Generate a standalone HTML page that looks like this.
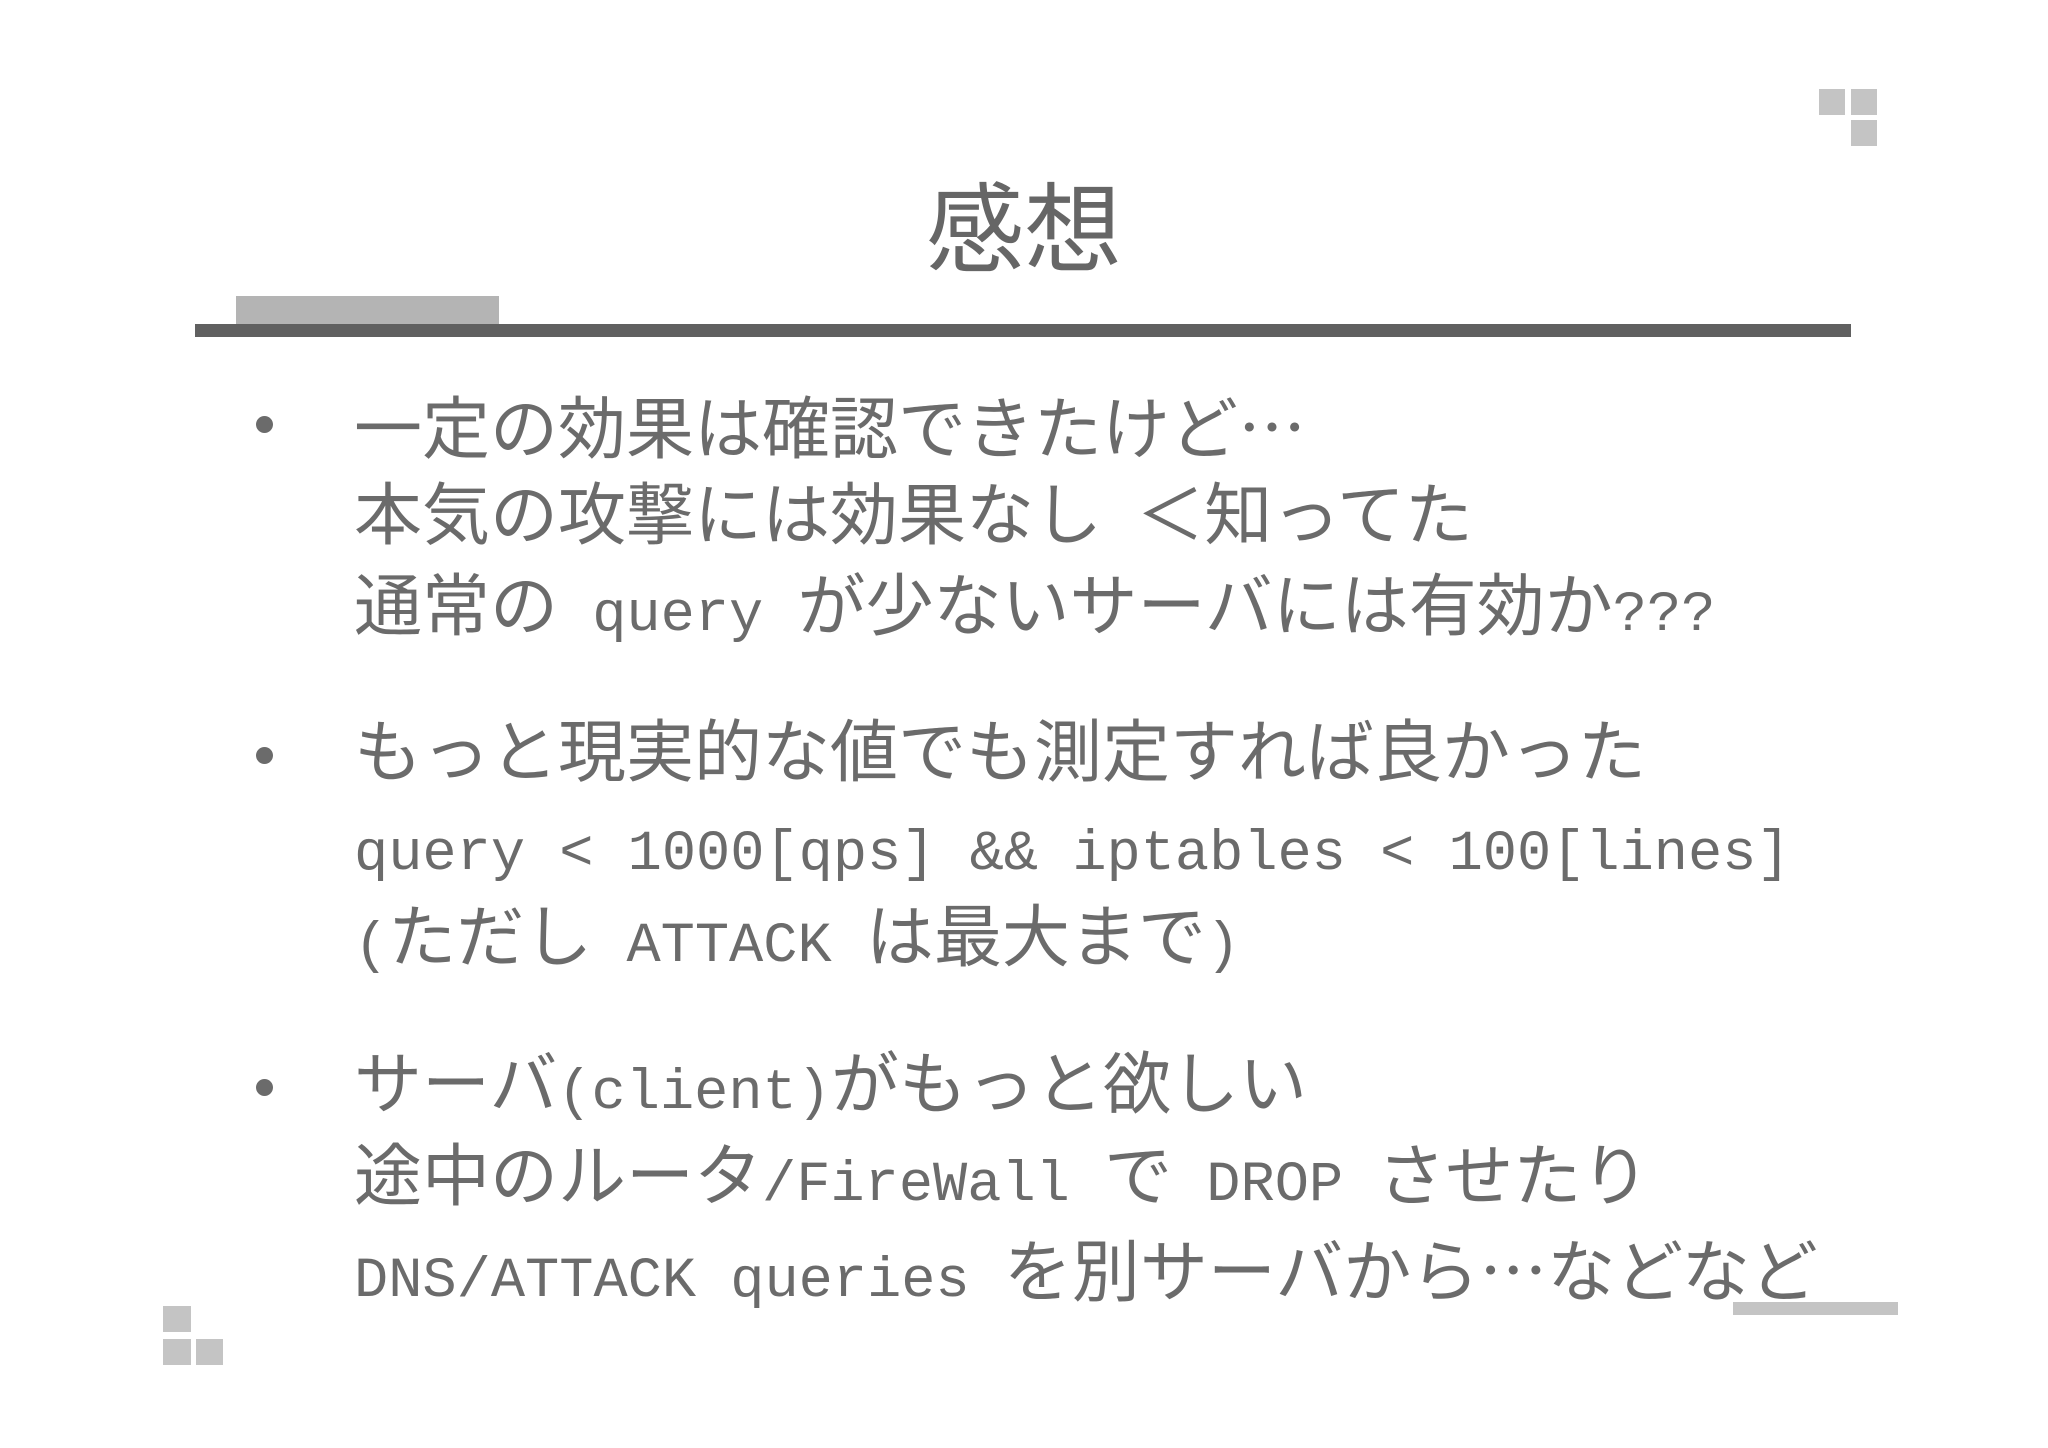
<!DOCTYPE html>
<html><head><meta charset="utf-8"><style>
body{margin:0;width:2048px;height:1448px;background:#fff;position:relative;overflow:hidden;font-family:"Liberation Sans","Noto Sans CJK JP",sans-serif;color:#6b6b6b}
.b{position:absolute}
.sq{position:absolute;background:#c4c4c4}
.l{position:absolute;left:354px;height:90px;line-height:90px;font-size:68px;white-space:pre}
.m{font-family:"Liberation Mono",monospace;font-size:57px}
.j{font-family:"Noto Sans CJK JP",sans-serif}
.dot{position:absolute;left:256px;width:17px;height:17px;border-radius:50%;background:#6b6b6b}
</style></head><body>
<div class="sq" style="left:1819px;top:89px;width:26px;height:26px"></div>
<div class="sq" style="left:1851px;top:89px;width:26px;height:26px"></div>
<div class="sq" style="left:1851px;top:120px;width:26px;height:26px"></div>
<div class="b" style="left:0;width:2048px;top:170px;text-align:center;font-size:98px;line-height:120px;color:#666">感想</div>
<div class="b" style="left:236px;top:296px;width:263px;height:28px;background:#b4b4b4"></div>
<div class="b" style="left:195px;top:324px;width:1656px;height:13px;background:#606060"></div>

<div class="dot" style="top:416px"></div>
<div class="l" style="top:379px">一定の効果は確認できたけど<span class="j">…</span></div>
<div class="l" style="top:471px">本気の攻撃には効果なし<span class="m"> </span>＜知ってた</div>
<div class="l" style="top:562px">通常の<span class="m"> query </span>が少ないサーバには有効か<span class="m">???</span></div>

<div class="dot" style="top:747px"></div>
<div class="l" style="top:708px">もっと現実的な値でも測定すれば良かった</div>
<div class="l" style="top:801px"><span class="m">query &lt; 1000[qps] &amp;&amp; iptables &lt; 100[lines]</span></div>
<div class="l" style="top:893px"><span class="m">(</span>ただし<span class="m"> ATTACK </span>は最大まで<span class="m">)</span></div>

<div class="dot" style="top:1079px"></div>
<div class="l" style="top:1040px">サーバ<span class="m">(client)</span>がもっと欲しい</div>
<div class="l" style="top:1132px">途中のルータ<span class="m">/FireWall </span>で<span class="m"> DROP </span>させたり</div>
<div class="l" style="top:1222px"><span class="m">DNS/ATTACK queries </span>を別サーバから<span class="j">…</span>などなど</div>

<div class="sq" style="left:163px;top:1306px;width:28px;height:26px"></div>
<div class="sq" style="left:163px;top:1339px;width:28px;height:26px"></div>
<div class="sq" style="left:196px;top:1339px;width:27px;height:26px"></div>
<div class="b" style="left:1733px;top:1302px;width:165px;height:13px;background:#c4c4c4"></div>
</body></html>
